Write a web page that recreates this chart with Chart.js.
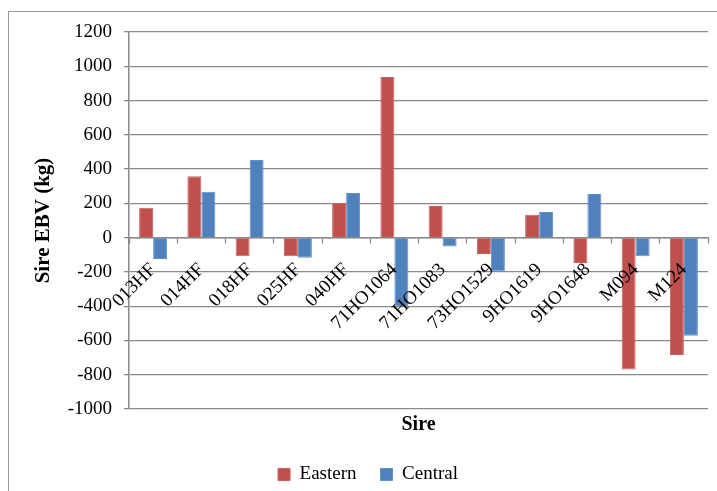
<!DOCTYPE html>
<html>
<head>
<meta charset="utf-8">
<script src="https://cdn.jsdelivr.net/npm/chart.js@4/dist/chart.umd.min.js"></script>
<style>
  html, body { margin: 0; padding: 0; background: #fff; }
  #wrap { width: 717px; height: 491px; position: relative; }
</style>
</head>
<body>
<div id="wrap"><canvas id="bar"></canvas></div>
<script>
// sire EBV values
var sires = ["013HF", "014HF", "018HF", "025HF", "040HF", "71HO1064", "71HO1083", "73HO1529", "9HO1619", "9HO1648", "M094", "M124"];
var eastern = [175, 358, -108, -108, 202, 938, 185, -95, 134, -148, -770, -685];
var central = [-124, 268, 453, -118, 261, -400, -51, -198, 150, 255, -108, -572];
var yTicks = [1200, 1000, 800, 600, 400, 200, 0, -200, -400, -600, -800, -1000];

var serif = "'Liberation Serif', 'Times New Roman', serif";
var gridGrey = "#8a8a8a";

// white page + the thin frame around the chart
var framePlugin = {
  id: "frame",
  beforeDraw: function (chart) {
    var c = chart.ctx;
    c.save();
    c.fillStyle = "#fff";
    c.fillRect(0, 0, chart.width, chart.height);
    c.strokeStyle = "#9a9a9a";
    c.lineWidth = 1;
    c.strokeRect(8.5, 11.5, chart.width + 20, chart.height + 20);
    c.restore();
  }
};

var ctx = document.getElementById("bar");
var myBarChart = new Chart(ctx, {
  type: "bar",
  data: {
    labels: sires,
    datasets: [
      {
        label: "Eastern",
        data: eastern,
        backgroundColor: "#C0504D",
        borderColor: "#C9615E",
        borderWidth: 1,
        xAxisID: "x"
      },
      {
        label: "Central",
        data: central,
        backgroundColor: "#4F81BD",
        borderColor: "#6190C8",
        borderWidth: 1,
        xAxisID: "x"
      }
    ]
  },
  options: {
    responsive: true,
    maintainAspectRatio: false,
    animation: false,
    datasets: {
      bar: { categoryPercentage: 0.58, barPercentage: 1.0 }
    },
    layout: { padding: { left: 28, right: 9, top: 32, bottom: -3 } },
    plugins: {
      tooltip: { enabled: false },
      legend: {
        position: "bottom",
        labels: {
          color: "#000",
          font: { family: serif, size: 19 },
          boxWidth: 12,
          boxHeight: 12,
          padding: 24
        }
      }
    },
    scales: {
      x: {
        type: "category",
        position: { y: 0 },
        offset: true,
        grid: {
          offset: true,
          drawOnChartArea: false,
          drawTicks: true,
          tickLength: 5,
          tickColor: gridGrey,
          tickWidth: 1.3
        },
        border: { display: true, color: gridGrey, width: 1.5 },
        ticks: {
          color: "#000",
          font: { family: serif, size: 19 },
          autoSkip: false,
          maxRotation: 45,
          minRotation: 45,
          padding: 16,
          z: 1
        }
      },
      x2: {
        type: "category",
        position: "bottom",
        grid: { display: false, drawTicks: false },
        border: { display: false },
        ticks: { display: false },
        title: {
          display: true,
          text: "Sire",
          color: "#000",
          font: { family: serif, size: 20, weight: "bold" },
          padding: { top: 4, bottom: 4 }
        }
      },
      y: {
        min: -1000,
        max: 1200,
        afterFit: function (scale) { scale.width = 101; },
        afterBuildTicks: function (scale) {
          scale.ticks = yTicks.map(function (v) { return { value: v }; });
        },
        grid: {
          color: gridGrey,
          lineWidth: 1.3,
          drawTicks: true,
          tickLength: 5,
          tickColor: gridGrey
        },
        border: { display: true, color: gridGrey, width: 1.5 },
        ticks: {
          color: "#000",
          font: { family: serif, size: 19 },
          padding: 12,
          callback: function (v) { return String(v); }
        },
        title: {
          display: true,
          text: "Sire EBV (kg)",
          color: "#000",
          font: { family: serif, size: 21, weight: "bold" },
          padding: { top: 3, bottom: 0 }
        }
      }
    }
  },
  plugins: [framePlugin]
});
</script>
</body>
</html>
